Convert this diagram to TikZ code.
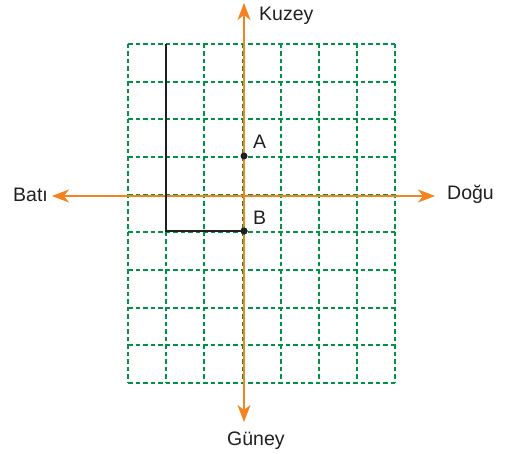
\documentclass[tikz,border=0pt]{standalone}
\usepackage{fontspec}
\setmainfont{Liberation Sans}
\usetikzlibrary{arrows.meta}
\definecolor{gridgreen}{RGB}{0,146,69}
\definecolor{axisorange}{RGB}{243,130,32}
\definecolor{inkblack}{RGB}{35,31,32}
\tikzset{
  gridline/.style={gridgreen, line width=1.6pt, dash pattern=on 4.5pt off 3pt},
  axisline/.style={axisorange, line width=1.9pt, -{Stealth[length=17pt,width=13pt,inset=5pt]}},
  pathline/.style={inkblack, line width=2.6pt},
  lbl/.style={inner sep=0pt, anchor=base west, text=inkblack, font=\fontsize{19.5}{22}\selectfont},
  dot/.style={circle, fill=inkblack, inner sep=0pt, minimum size=7pt}
}
\begin{document}
\begin{tikzpicture}[x=1pt,y=-1pt]
\useasboundingbox (0,0) rectangle (505,454);
% grid
\foreach \y in {44,82,119,157,195,232,270,308,345,383} {
  \draw[gridline] (128,\y) -- (395,\y);
}
\foreach \x in {128,166,204,243,281,319,357,395} {
  \draw[gridline] (\x,44) -- (\x,383);
}
% axes
\coordinate (O) at (244,196);
\coordinate (west) at (52,196);
\coordinate (east) at (435,196);
\coordinate (north) at (244,3);
\coordinate (south) at (244,422);
\draw[axisline] (O) -- (west);
\draw[axisline] (O) -- (east);
\draw[axisline] (O) -- (north);
\draw[axisline] (O) -- (south);
% path
\coordinate (top) at (166,44);
\coordinate (corner) at (166,231);
\node[dot] (B) at (244,231) {};
\node[dot] (A) at (244,156) {};
\draw[pathline] (top) -- (corner) -- (B.center);
\node[dot] at (B) {};
% labels
\node[lbl] (kuzey) at (259,20.7) {Kuzey};
\node[lbl] (bati) at (13,201) {Batı};
\node[lbl] (dogu) at (447,200) {Doğu};
\node[lbl] (guney) at (227,445) {Güney};
\node[lbl] (labA) at (253,149) {A};
\node[lbl] (labB) at (253,224) {B};
\end{tikzpicture}
\end{document}
